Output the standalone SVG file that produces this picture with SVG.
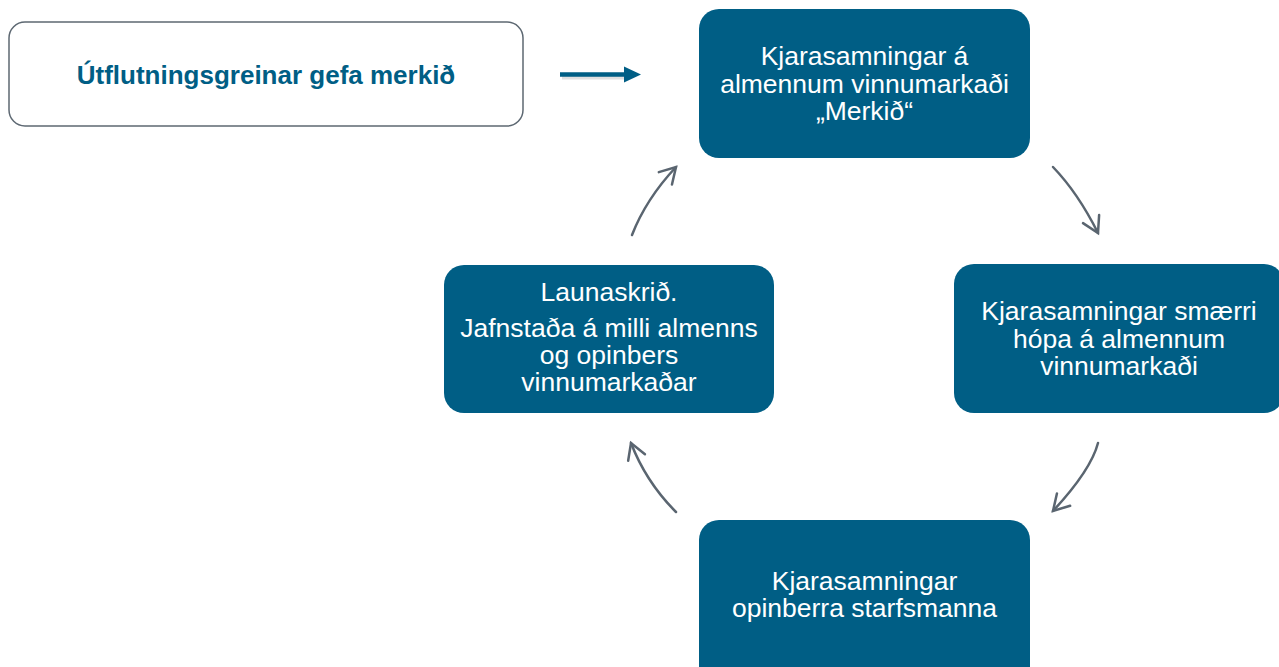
<svg xmlns="http://www.w3.org/2000/svg" width="1279" height="667" viewBox="0 0 1279 667">
  <defs>
    <style>
      .box { fill: #005e85; }
      .lbl { font-family: "Liberation Sans", Arial, sans-serif; font-size: 26.5px; fill: #ffffff; text-anchor: middle; }
      .title { font-family: "Liberation Sans", Arial, sans-serif; font-size: 26px; font-weight: bold; fill: #005e85; text-anchor: middle; }
      .cyc { fill: none; stroke: #5a6570; stroke-width: 2.5; stroke-linecap: round; marker-end: url(#openHead); }
    </style>
    <marker id="openHead" markerUnits="userSpaceOnUse" markerWidth="40" markerHeight="40" viewBox="-20 -20 40 40" refX="0" refY="0" orient="auto" overflow="visible">
      <path d="M -15.5 -9 L 0 0 L -15.5 9" fill="none" stroke="#5a6570" stroke-width="2.5" stroke-linecap="round" stroke-linejoin="miter"/>
    </marker>
  </defs>
  <rect width="1279" height="667" fill="#ffffff"/>

  <g id="source">
    <rect x="9" y="22" width="514" height="104" rx="16" fill="#ffffff" stroke="#5d6872" stroke-width="1.5"/>
    <text class="title" x="266" y="84">Útflutningsgreinar gefa merkið</text>
  </g>

  <g id="n-top">
    <rect class="box" x="699" y="9" width="331" height="149" rx="20"/>
    <text class="lbl" x="864.5" y="65">Kjarasamningar á</text>
    <text class="lbl" x="864.5" y="92.5">almennum vinnumarkaði</text>
    <text class="lbl" x="864.5" y="120">„Merkið“</text>
  </g>

  <g id="n-right">
    <rect class="box" x="954" y="264" width="330" height="149" rx="20"/>
    <text class="lbl" x="1119" y="320">Kjarasamningar smærri</text>
    <text class="lbl" x="1119" y="347.5">hópa á almennum</text>
    <text class="lbl" x="1119" y="375">vinnumarkaði</text>
  </g>

  <g id="n-bottom">
    <rect class="box" x="699" y="520" width="331" height="170" rx="20"/>
    <text class="lbl" x="864.5" y="590">Kjarasamningar</text>
    <text class="lbl" x="864.5" y="616.5">opinberra starfsmanna</text>
  </g>

  <g id="n-left">
    <rect class="box" x="444" y="265" width="330" height="148" rx="20"/>
    <text class="lbl" x="609" y="301">Launaskrið.</text>
    <text class="lbl" x="609" y="337">Jafnstaða á milli almenns</text>
    <text class="lbl" x="609" y="364">og opinbers</text>
    <text class="lbl" x="609" y="391">vinnumarkaðar</text>
  </g>

  <g id="connectors">
    <g id="signal-arrow">
      <line x1="562" y1="77" x2="626" y2="77" stroke="#000000" stroke-opacity="0.12" stroke-width="5"/>
      <line x1="560" y1="74.5" x2="626" y2="74.5" stroke="#005e85" stroke-width="4.5"/>
      <polygon points="624,66.5 641,74.5 624,82.5" fill="#005e85"/>
    </g>
    <path class="cyc" d="M 1053 167 Q 1078 193 1098 233"/>
    <path class="cyc" d="M 1098 443 Q 1091 470 1053 511"/>
    <path class="cyc" d="M 676 512 Q 646 482 631 443"/>
    <path class="cyc" d="M 632 235 Q 646 199 676 167"/>
  </g>
</svg>
